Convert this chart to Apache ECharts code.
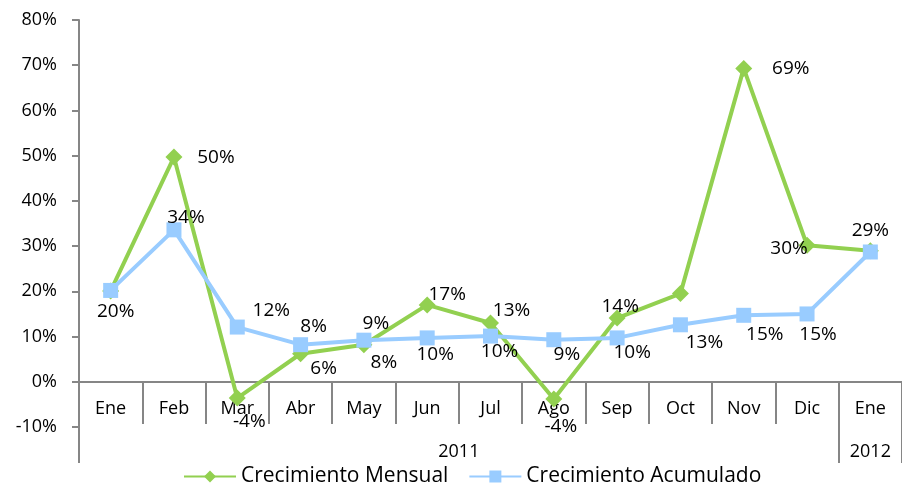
<!DOCTYPE html>
<html>
<head>
<meta charset="utf-8">
<script src="https://cdn.jsdelivr.net/npm/echarts@6/dist/echarts.min.js"></script>
<style>
  html, body { margin: 0; padding: 0; background: #fff; }
  #chart { width: 902px; height: 487px; }
</style>
</head>
<body>
<div id="chart"></div>
<script>
// datos
const meses = ['Ene', 'Feb', 'Mar', 'Abr', 'May', 'Jun', 'Jul', 'Ago', 'Sep', 'Oct', 'Nov', 'Dic', 'Ene']
const anios = ['2011', '2012']
const mensual = [20.1, 49.7, -3.6, 6.2, 8.2, 17.0, 13.0, -3.8, 14.1, 19.5, 69.3, 30.2, 29.0]
const acumulado = [20.2, 33.6, 12.1, 8.2, 9.2, 9.7, 10.1, 9.3, 9.7, 12.6, 14.7, 15.0, 28.7]

// desplazamiento de cada etiqueta respecto al punto (null = sin etiqueta)
const offMensual = [[5, 21], [42, 1], [12, 24], [23, 15], [20, 18], [20, -10], [21, -12], [7, 28], [3, -11], null, [47, 0], [-18, 3], [0, -20]]
const offAcumulado = [null, [12, -12], [34, -16], [13, -18], [12, -17], [8, 17], [9, 15], [13, 15], [15, 15], [24, 18], [21, 19], [11, 21], null]

const FONT = 'Open Sans'
const AXIS = '#868686'
const VERDE = '#92d050'
const AZUL = '#99ccff'

const buildData = (values, offsets) => values.map((v, i) => {
  const off = offsets[i]
  return {
    value: v,
    label: off ? { show: true, position: 'inside', offset: off } : { show: false }
  }
})

const chart = echarts.init(document.getElementById('chart'))

const option = {
  animation: false,
  textStyle: { fontFamily: FONT, color: '#000' },
  grid: { left: 79, right: -1, top: 20, bottom: 60, containLabel: false },
  legend: {
    top: 461,
    left: 178,
    itemWidth: 52,
    itemHeight: 15,
    itemGap: 20,
    textStyle: { fontFamily: FONT, fontSize: 21, color: '#000' },
    data: ['Crecimiento Mensual', 'Crecimiento Acumulado']
  },
  xAxis: [
    {
      // fila de meses: la linea va sobre el 0%
      type: 'category',
      data: meses,
      boundaryGap: true,
      offset: -45,
      axisLine: { onZero: false, lineStyle: { color: AXIS, width: 2 } },
      axisTick: { show: true, alignWithLabel: false, length: 42, lineStyle: { color: AXIS, width: 2 } },
      axisLabel: { margin: 18, fontFamily: FONT, fontSize: 18, color: '#000' },
      splitLine: { show: false }
    },
    {
      // fila de anios
      type: 'value',
      min: 0,
      max: meses.length,
      position: 'bottom',
      offset: -3,
      axisLine: { show: false, onZero: false },
      axisTick: { show: true, length: 39, customValues: [0, 12, 13], lineStyle: { color: AXIS, width: 2 } },
      axisLabel: {
        margin: 19,
        fontFamily: FONT,
        fontSize: 18,
        color: '#000',
        customValues: [6, 12.5],
        formatter: v => (v < 12 ? anios[0] : anios[1])
      },
      splitLine: { show: false }
    }
  ],
  yAxis: {
    type: 'value',
    min: -10,
    max: 80,
    interval: 10,
    axisLine: { show: true, lineStyle: { color: AXIS, width: 2 } },
    axisTick: { show: true, length: 7, lineStyle: { color: AXIS, width: 2 } },
    axisLabel: { margin: 22, fontFamily: FONT, fontSize: 18, color: '#000', formatter: '{value}%' },
    splitLine: { show: false }
  },
  series: [
    {
      name: 'Crecimiento Mensual',
      type: 'line',
      xAxisIndex: 0,
      data: buildData(mensual, offMensual),
      symbol: 'diamond',
      symbolSize: 17,
      itemStyle: { color: VERDE },
      lineStyle: { color: VERDE, width: 4 },
      label: { fontFamily: FONT, fontSize: 19, color: '#000', formatter: p => Math.round(p.value) + '%' },
      z: 2
    },
    {
      name: 'Crecimiento Acumulado',
      type: 'line',
      xAxisIndex: 0,
      data: buildData(acumulado, offAcumulado),
      symbol: 'rect',
      symbolSize: 15,
      itemStyle: { color: AZUL },
      lineStyle: { color: AZUL, width: 4 },
      label: { fontFamily: FONT, fontSize: 19, color: '#000', formatter: p => Math.round(p.value) + '%' },
      z: 3
    }
  ]
}

chart.setOption(option)
</script>
</body>
</html>
